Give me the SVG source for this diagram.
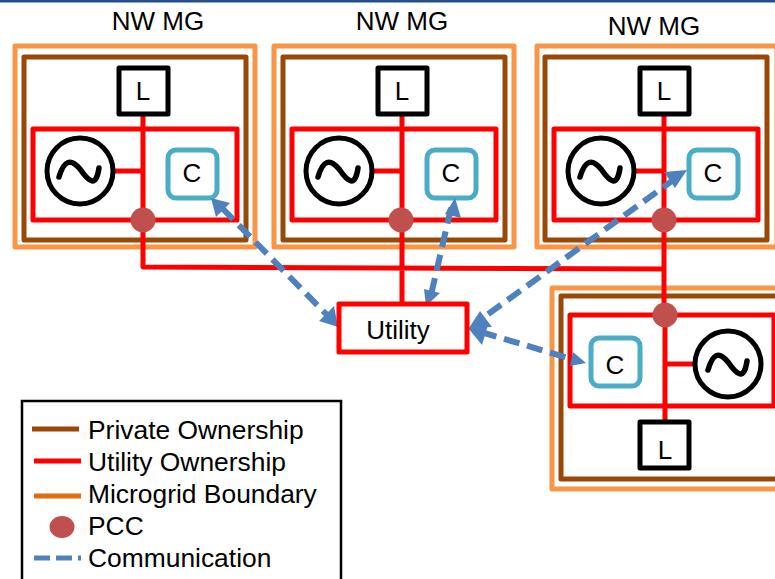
<svg xmlns="http://www.w3.org/2000/svg" width="775" height="579" viewBox="0 0 775 579">
<style>
.t{font-family:"Liberation Sans",Arial,sans-serif;fill:#000;font-size:26px}
.k{font-size:26.400px}
.m{text-anchor:middle}
.o{fill:none;stroke:#f79646;stroke-width:5;stroke-linejoin:round}
.b{fill:none;stroke:#984807;stroke-width:5;stroke-linejoin:round}
.r{fill:none;stroke:#f00;stroke-width:5;stroke-linejoin:round}
.l{fill:#fff;stroke:#000;stroke-width:5;stroke-linejoin:round}
.c{fill:#fff;stroke:#4bacc6;stroke-width:5}
.g{fill:#fff;stroke:#000;stroke-width:5}
.s{fill:none;stroke:#000;stroke-width:5.500;stroke-linecap:round;stroke-linejoin:round}
.p{fill:#c0504d}
.d{fill:none;stroke:#4f81bd;stroke-width:6;stroke-dasharray:16 8}
.a{fill:#4f81bd}
</style>
<rect x="0" y="0" width="775" height="2.500" fill="#254f86"/>
<g id="title-labels">
<text class="t m" x="158" y="30">NW MG</text>
<text class="t m" x="402" y="30">NW MG</text>
<text class="t m" x="654" y="35">NW MG</text>
</g>
<g id="mg1">
<rect class="o" x="15" y="46" width="240" height="201"/>
<rect class="b" x="24" y="57" width="222" height="183"/>
<rect class="r" x="33" y="129" width="204" height="91"/>
<path class="r" d="M143 112V221M113 171H143"/>
<rect class="l" x="119" y="68" width="49" height="46"/>
<text class="t m" x="143" y="100">L</text>
<circle class="g" cx="80" cy="171" r="33"/>
<path class="s" d="M59 177C64 160 71 158 80 169C89 182 96 188 99 168"/>
<rect class="c" x="168" y="150" width="49" height="48" rx="8"/>
<text class="t m" x="192" y="182">C</text>
</g>
<g id="mg2">
<rect class="o" x="274" y="46" width="240" height="201"/>
<rect class="b" x="283" y="57" width="222" height="183"/>
<rect class="r" x="292" y="129" width="204" height="91"/>
<path class="r" d="M402 112V221M372 171H402"/>
<rect class="l" x="378" y="68" width="49" height="46"/>
<text class="t m" x="402" y="100">L</text>
<circle class="g" cx="339" cy="171" r="33"/>
<path class="s" d="M318 177C323 160 330 158 339 169C348 182 355 188 358 168"/>
<rect class="c" x="427" y="150" width="49" height="48" rx="8"/>
<text class="t m" x="451" y="182">C</text>
</g>
<g id="mg3">
<rect class="o" x="537" y="46" width="240" height="201"/>
<rect class="b" x="545" y="57" width="222" height="183"/>
<rect class="r" x="554" y="129" width="204" height="91"/>
<path class="r" d="M664 112V221M634 171H664"/>
<rect class="l" x="640" y="68" width="49" height="46"/>
<text class="t m" x="664" y="100">L</text>
<circle class="g" cx="601" cy="171" r="33"/>
<path class="s" d="M580 177C585 160 592 158 601 169C610 182 617 188 620 168"/>
<rect class="c" x="689" y="150" width="49" height="48" rx="8"/>
<text class="t m" x="713" y="182">C</text>
</g>
<g id="mg4">
<rect class="o" x="552" y="288" width="240" height="201"/>
<rect class="b" x="561" y="296" width="222" height="183"/>
<rect class="r" x="570" y="315" width="204" height="91"/>
<path class="r" d="M665 315V422M665 364H695"/>
<rect class="l" x="640" y="422" width="49" height="46"/>
<text class="t m" x="665" y="459">L</text>
<circle class="g" cx="728" cy="364" r="33"/>
<path class="s" d="M708 370C713 353 719 351 728 362C737 375 744 381 747 361"/>
<rect class="c" x="591" y="338" width="49" height="48" rx="8"/>
<text class="t m" x="615" y="374">C</text>
</g>
<g id="connectors">
<path class="r" d="M143 220V267L664 269M402 220V305M664 220V315"/>
<path class="d" d="M222 208L330 318"/>
<path class="a" d="M211 198L230 203L216 217ZM338 327L319 321L334 306Z"/>
<path class="d" d="M451 208L431 295"/>
<path class="a" d="M455 198L461 218L445 214ZM426 306L424 289L440 293Z"/>
<path class="d" d="M676 178L480 320"/>
<path class="a" d="M687 170L675 188L664 172ZM469 328L480 311L492 327Z"/>
<path class="d" d="M481 332L575 360"/>
<path class="a" d="M468 328L488 325L482 345ZM586 363L570 366L573 352Z"/>
</g>
<g id="pcc-points">
<circle class="p" cx="143" cy="220" r="12.500"/>
<circle class="p" cx="401" cy="220" r="12.500"/>
<circle class="p" cx="664" cy="220" r="12.500"/>
<circle class="p" cx="665" cy="315" r="12.500"/>
</g>
<g id="utility">
<rect x="339" y="304" width="128" height="48" fill="#fff" stroke="#f00" stroke-width="5" stroke-linejoin="round"/>
<text class="t m" x="398" y="339">Utility</text>
</g>
<g id="legend">
<rect x="22" y="401" width="319" height="190" fill="#fff" stroke="#000" stroke-width="2.500"/>
<path d="M32 429H79" stroke="#984807" stroke-width="5" fill="none"/>
<path d="M34 461H81" stroke="#f00" stroke-width="5" fill="none"/>
<path d="M34 496H81" stroke="#e46c0a" stroke-width="5" fill="none"/>
<ellipse class="p" cx="62" cy="527" rx="12.500" ry="11"/>
<path d="M34 558H81" stroke="#4f81bd" stroke-width="5" fill="none" stroke-dasharray="16 6"/>
<text class="t k" x="88" y="439">Private Ownership</text>
<text class="t k" x="88" y="471">Utility Ownership</text>
<text class="t k" x="88" y="503">Microgrid Boundary</text>
<text class="t k" x="88" y="535">PCC</text>
<text class="t k" x="88" y="567">Communication</text>
</g>
</svg>
